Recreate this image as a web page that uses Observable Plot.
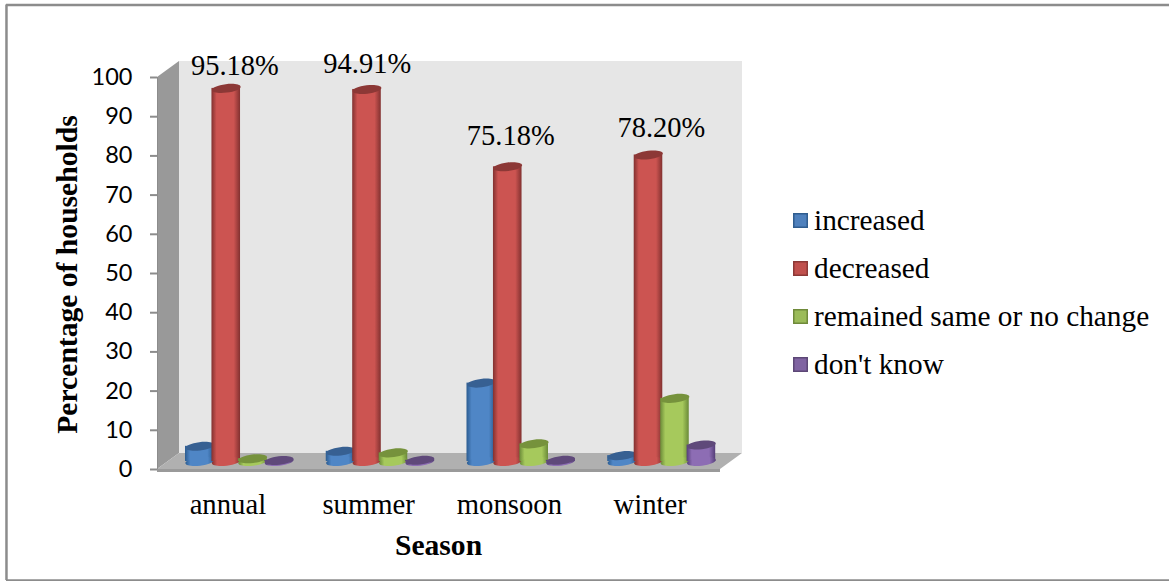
<!DOCTYPE html>
<html>
<head>
<meta charset="utf-8">
<script src="https://cdn.jsdelivr.net/npm/d3@7"></script>
<script src="https://cdn.jsdelivr.net/npm/@observablehq/plot@0.6"></script>
<style>
  html, body { margin: 0; padding: 0; background: #fff; }
  svg { display: block; }
</style>
</head>
<body>
<div id="chart"></div>
<script>
// Household perception of change, by season
const seasons = ["annual", "summer", "monsoon", "winter"];
const seriesNames = ["increased", "decreased", "remained same or no change", "don't know"];

const increased = [3.87, 2.6, 20.0, 1.5];
const decreased = [95.18, 94.91, 75.18, 78.2];
const remainedSame = [0.7, 2.2, 4.5, 16.1];
const dontKnow = [0.25, 0.3, 0.3, 4.2];

const decreasedLabels = ["95.18%", "94.91%", "75.18%", "78.20%"];
const yTicks = [0, 10, 20, 30, 40, 50, 60, 70, 80, 90, 100];

const seriesValues = [increased, decreased, remainedSame, dontKnow];
const palette = [
  {id: "blue", edge: "#2b5c91", mid: "#4f86c6", top: "#376092", swatch: "#4f81bd", line: "#2f5d8f"},
  {id: "red", edge: "#823130", mid: "#cc5451", top: "#8c3836", swatch: "#c0504d", line: "#8c3836"},
  {id: "green", edge: "#6a8a38", mid: "#a6c95c", top: "#76923c", swatch: "#9bbb59", line: "#6f8a3a"},
  {id: "purple", edge: "#553e78", mid: "#8d6db4", top: "#5f497a", swatch: "#8064a2", line: "#5c4776"}
];

const serif = "'Liberation Serif', 'Times New Roman', serif";
const sans = "Lato, 'Noto Sans', sans-serif";

// Frame margins; text anchored to the page is offset from the frame's corner
const marginLeft = 157;
const marginTop = 77;
const pageX = x => x - marginLeft;
const pageY = y => y - marginTop;

// Cylinder geometry in x-scale units; the bars stand mid-way into the floor's depth
const slotPitch = 0.188;
const barWidth = 0.203;
const barDx = 11.6;
const barDy = -8;
const barRadius = 14.5;

// Depth of the box, in scale units, for the back wall and floor
const depthX = 22 / 140.75;
const depthY = 16 / 3.917;

// Extent of the figure's outer border, in scale units
const border = {left: -1.073, right: 7.2, top: 118.5, bottom: -28.3};

// Hand placement of the value labels: season-unit shift and pixel shift
const labelShift = [[0.05, 4], [-0.01, 1], [0.01, -5], [0.08, -1]];

// A flattened, slightly tilted ellipse usable as a dot symbol
const discSymbol = {
  draw(context, size) {
    const rx = Math.sqrt(size / Math.PI);
    const ry = rx * 0.29;
    const tilt = -7 * Math.PI / 180;
    const k = 0.5523;
    const px = (x, y) => [x * Math.cos(tilt) - y * Math.sin(tilt), x * Math.sin(tilt) + y * Math.cos(tilt)];
    context.moveTo(...px(rx, 0));
    context.bezierCurveTo(...px(rx, k * ry), ...px(k * rx, ry), ...px(0, ry));
    context.bezierCurveTo(...px(-k * rx, ry), ...px(-rx, k * ry), ...px(-rx, 0));
    context.bezierCurveTo(...px(-rx, -k * ry), ...px(-k * rx, -ry), ...px(0, -ry));
    context.bezierCurveTo(...px(k * rx, -ry), ...px(rx, -k * ry), ...px(rx, 0));
    context.closePath();
  }
};

// Horizontal shading that makes each bar read as a cylinder
function gradients() {
  const defs = d3.create("svg:defs");
  for (const c of palette) {
    const g = defs.append("linearGradient").attr("id", `cyl-${c.id}`).attr("x1", 0).attr("x2", 1).attr("y1", 0).attr("y2", 0);
    [[0, c.edge], [0.18, c.mid], [0.78, c.mid], [1, c.edge]].forEach(([o, col]) =>
      g.append("stop").attr("offset", o).attr("stop-color", col));
  }
  return defs.node();
}

const cylinders = seriesValues.flatMap((values, s) => {
  const rows = seasons.map((season, i) => ({
    season,
    x: i + 0.5 + (s - 1.5) * slotPitch,
    value: values[i]
  }));
  const c = palette[s];
  const fill = `url(#cyl-${c.id})`;
  return [
    Plot.rect(rows, {
      x1: d => d.x - barWidth / 2,
      x2: d => d.x + barWidth / 2,
      y1: 0,
      y2: "value",
      fill,
      dx: barDx,
      dy: barDy
    }),
    Plot.dot(rows, {x: "x", y: 0, r: barRadius, symbol: discSymbol, fill, dx: barDx, dy: barDy}),
    Plot.dot(rows, {x: "x", y: "value", r: barRadius, symbol: discSymbol, fill: c.top, dx: barDx, dy: barDy})
  ];
});

const legendTop = 220;
const legendStep = 48;
const legend = seriesNames.flatMap((name, s) => [
  Plot.dot([name], {
    frameAnchor: "top-left", dx: pageX(800), dy: pageY(legendTop + s * legendStep),
    symbol: "square", r: 7.6,
    fill: palette[s].swatch, stroke: palette[s].line, strokeWidth: 1.5
  }),
  Plot.text([name], {
    frameAnchor: "top-left", dx: pageX(813.5), dy: pageY(legendTop + s * legendStep),
    text: d => d, textAnchor: "start", lineAnchor: "middle",
    fontFamily: serif, fontSize: 29.3, fill: "#000"
  })
]);

const chart = Plot.plot({
  width: 1169,
  height: 581,
  marginLeft,
  marginRight: 449,
  marginTop,
  marginBottom: 112,
  style: {background: "#fff", overflow: "visible"},
  x: {domain: [0, 4]},
  y: {domain: [0, 100]},
  marks: [
    gradients,
    // Outer border of the figure: left, top and bottom edges
    Plot.ruleX([border.left], {y1: border.bottom, y2: border.top, stroke: "#8c8c8c", strokeWidth: 2.5}),
    Plot.ruleY([border.top, border.bottom], {x1: border.left, x2: border.right, stroke: "#8c8c8c", strokeWidth: 2.5}),

    // Side wall, back wall, floor
    Plot.areaY([{x: 0, a: 0, b: 100}, {x: depthX, a: depthY, b: 100 + depthY}], {x: "x", y1: "a", y2: "b", fill: "#999999"}),
    Plot.rect([0], {x1: depthX, x2: 4 + depthX, y1: depthY, y2: 100 + depthY, fill: "#e6e6e6"}),
    Plot.areaX([{y: 0, a: 0, b: 4}, {y: depthY, a: depthX, b: 4 + depthX}], {y: "y", x1: "a", x2: "b", fill: "#b0b0b0"}),
    Plot.ruleY([0], {x1: 0, x2: 4, stroke: "#9a9a9a", strokeWidth: 3, dy: 1}),

    ...cylinders,

    // Value labels over the "decreased" cylinders
    ...decreased.map((value, i) => Plot.text([value], {
      x: i + 0.5 + labelShift[i][0],
      y: value,
      text: () => decreasedLabels[i],
      dy: -25 + labelShift[i][1], lineAnchor: "bottom",
      fontFamily: serif, fontSize: 28.5, fill: "#000"
    })),

    Plot.axisY({
      ticks: yTicks, tickSize: 7, tickPadding: 18, label: null,
      stroke: "#8c8c8c", strokeWidth: 2, tickFormat: d => d,
      fontFamily: sans, fontSize: 23.5, fill: "#000"
    }),
    Plot.ruleX([0], {y1: 0, y2: 100, stroke: "#8c8c8c", strokeWidth: 1}),
    Plot.axisX({
      ticks: [0.5, 1.5, 2.5, 3.5], tickSize: 0, tickPadding: 24, label: null,
      tickFormat: (d, i) => seasons[i],
      fontFamily: serif, fontSize: 28.7, fill: "#000"
    }),

    // Axis titles
    Plot.text(["Percentage of households"], {
      frameAnchor: "top-left", dx: pageX(67), dy: pageY(274), rotate: -90,
      textAnchor: "middle", lineAnchor: "middle",
      text: d => d, fontFamily: serif, fontSize: 29.6, fontWeight: "bold", fill: "#000"
    }),
    Plot.text(["Season"], {
      frameAnchor: "top-left", dx: pageX(438), dy: pageY(545),
      textAnchor: "middle", lineAnchor: "middle",
      text: d => d, fontFamily: serif, fontSize: 29.6, fontWeight: "bold", fill: "#000"
    }),

    ...legend
  ]
});

document.getElementById("chart").append(chart);
</script>
</body>
</html>
